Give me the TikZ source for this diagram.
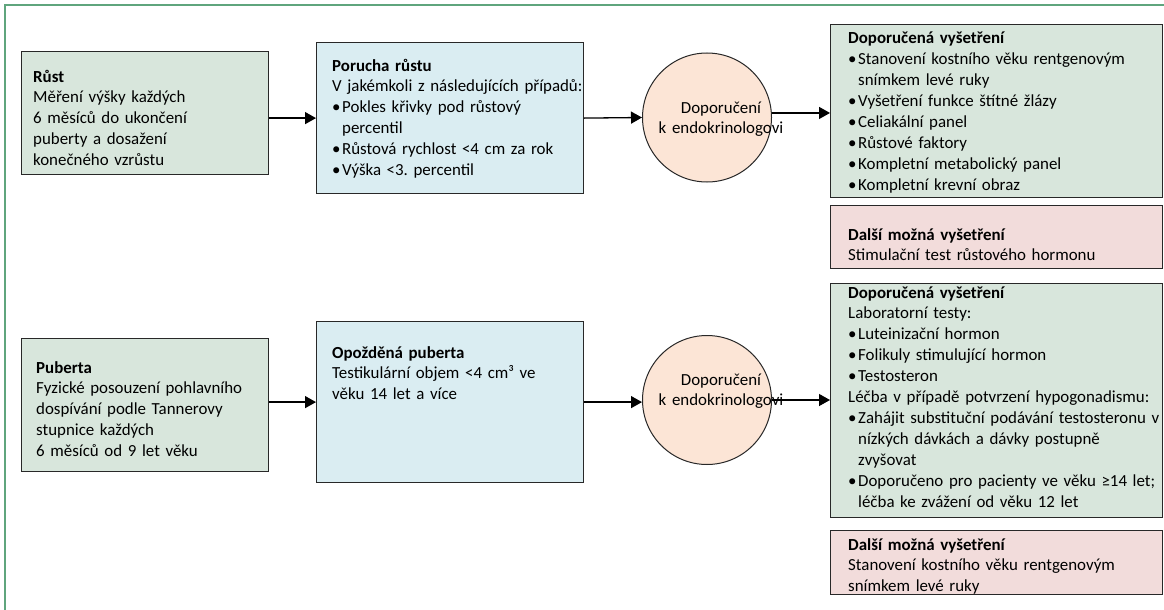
\documentclass[tikz,border=0pt]{standalone}
\usepackage{fontspec}
\setmainfont{Carlito}
\usetikzlibrary{arrows.meta,calc}
\frenchspacing

\definecolor{framegreen}{RGB}{95,165,125}
\definecolor{boxgreen}{RGB}{216,230,220}
\definecolor{boxblue}{RGB}{218,237,242}
\definecolor{boxpink}{RGB}{242,220,219}
\definecolor{circpeach}{RGB}{252,229,214}
\definecolor{edge}{RGB}{40,40,40}

% bullet item and continuation indent
\newcommand\bul{\makebox[10pt][l]{•}}
\newcommand\cont{\hspace*{10pt}}

\tikzset{
  box/.style={draw=edge, line width=1.2pt, rectangle, inner sep=0pt, anchor=north west},
  greenbox/.style={box, fill=boxgreen},
  bluebox/.style={box, fill=boxblue},
  pinkbox/.style={box, fill=boxpink},
  referral/.style={circle, draw=edge, fill=circpeach, line width=1pt, minimum size=129pt, inner sep=0pt},
  txt/.style={anchor=base west, inner sep=0pt, align=left, text width=340pt,
              font=\fontsize{16.9}{20.9}\selectfont\frenchspacing},
  ctxt/.style={anchor=base, inner sep=0pt, align=center, text width=160pt,
              font=\fontsize{16.9}{20.9}\selectfont},
  flow/.style={line width=1.3pt, draw=black, -{Triangle[length=11pt,width=12pt]}},
}

\begin{document}
\begin{tikzpicture}[x=1pt, y=-1pt]
\useasboundingbox (0,0) rectangle (1164,610);

% outer frame
\draw[framegreen, line width=1.5pt] (5,612) -- (5,5) -- (1166,5);

% ---------- growth row ----------
\node[greenbox, minimum width=247pt, minimum height=123pt] (rust) at (21,51) {};
\node[txt] (rustT) at (33,82) {\textbf{Růst}\\Měření výšky každých\\6 měsíců do ukončení\\puberty a dosažení\\konečného vzrůstu};

\node[bluebox, minimum width=267pt, minimum height=151pt] (porucha) at (316,42) {};
\node[txt] (poruchaT) at (332,71) {\textbf{Porucha růstu}\\V jakémkoli z následujících případů:\\\bul Pokles křivky pod růstový\\\cont percentil\\\bul Růstová rychlost <4 cm za rok\\\bul Výška <3. percentil};

\node[referral] (c1) at (707,117.5) {};
\node[ctxt] (c1T) at (721,113) {Doporučení\\k endokrinologovi};

\node[greenbox, minimum width=332pt, minimum height=173pt] (vys1) at (830,24) {};
\node[txt] (vys1T) at (848,44) {\textbf{Doporučená vyšetření}\\\bul Stanovení kostního věku rentgenovým\\\cont snímkem levé ruky\\\bul Vyšetření funkce štítné žlázy\\\bul Celiakální panel\\\bul Růstové faktory\\\bul Kompletní metabolický panel\\\bul Kompletní krevní obraz};

\node[pinkbox, minimum width=332pt, minimum height=63pt] (dal1) at (830,205) {};
\node[txt] (dal1T) at (848,240) {\textbf{Další možná vyšetření}\\Stimulační test růstového hormonu};

\draw[flow] (porucha.west -| rust.east) -- (porucha.west);
\draw[flow] (porucha.east) -- (c1.west);
\draw[flow] (c1.4) -- (c1.4 -| vys1.west);

% ---------- puberty row ----------
\node[greenbox, minimum width=247pt, minimum height=133pt] (pub) at (21,338) {};
\node[txt] (pubT) at (36,373) {\textbf{Puberta}\\Fyzické posouzení pohlavního\\dospívání podle Tannerovy\\stupnice každých\\6 měsíců od 9 let věku};

\node[bluebox, minimum width=267pt, minimum height=161pt] (opo) at (316,321) {};
\node[txt] (opoT) at (332,358) {\textbf{Opožděná puberta}\\Testikulární objem <4 cm³ ve\\věku 14 let a více};

\node[referral] (c2) at (707,400) {};
\node[ctxt] (c2T) at (721,385) {Doporučení\\k endokrinologovi};

\node[greenbox, minimum width=332pt, minimum height=234pt] (vys2) at (830,283) {};
\node[txt] (vys2T) at (848,298) {\textbf{Doporučená vyšetření}\\Laboratorní testy:\\\bul Luteinizační hormon\\\bul Folikuly stimulující hormon\\\bul Testosteron\\Léčba v případě potvrzení hypogonadismu:\\\bul Zahájit substituční podávání testosteronu v\\\cont nízkých dávkách a dávky postupně\\\cont zvyšovat\\\bul Doporučeno pro pacienty ve věku ≥14 let;\\\cont léčba ke zvážení od věku 12 let};

\node[pinkbox, minimum width=332pt, minimum height=64pt] (dal2) at (830,530) {};
\node[txt] (dal2T) at (848,550) {\textbf{Další možná vyšetření}\\Stanovení kostního věku rentgenovým\\snímkem levé ruky};

\draw[flow] (opo.west -| pub.east) -- (opo.west);
\draw[flow] (opo.east) -- (opo.east -| c2.west);
\draw[flow] (c2.east) -- (c2.east -| vys2.west);
\end{tikzpicture}
\end{document}
